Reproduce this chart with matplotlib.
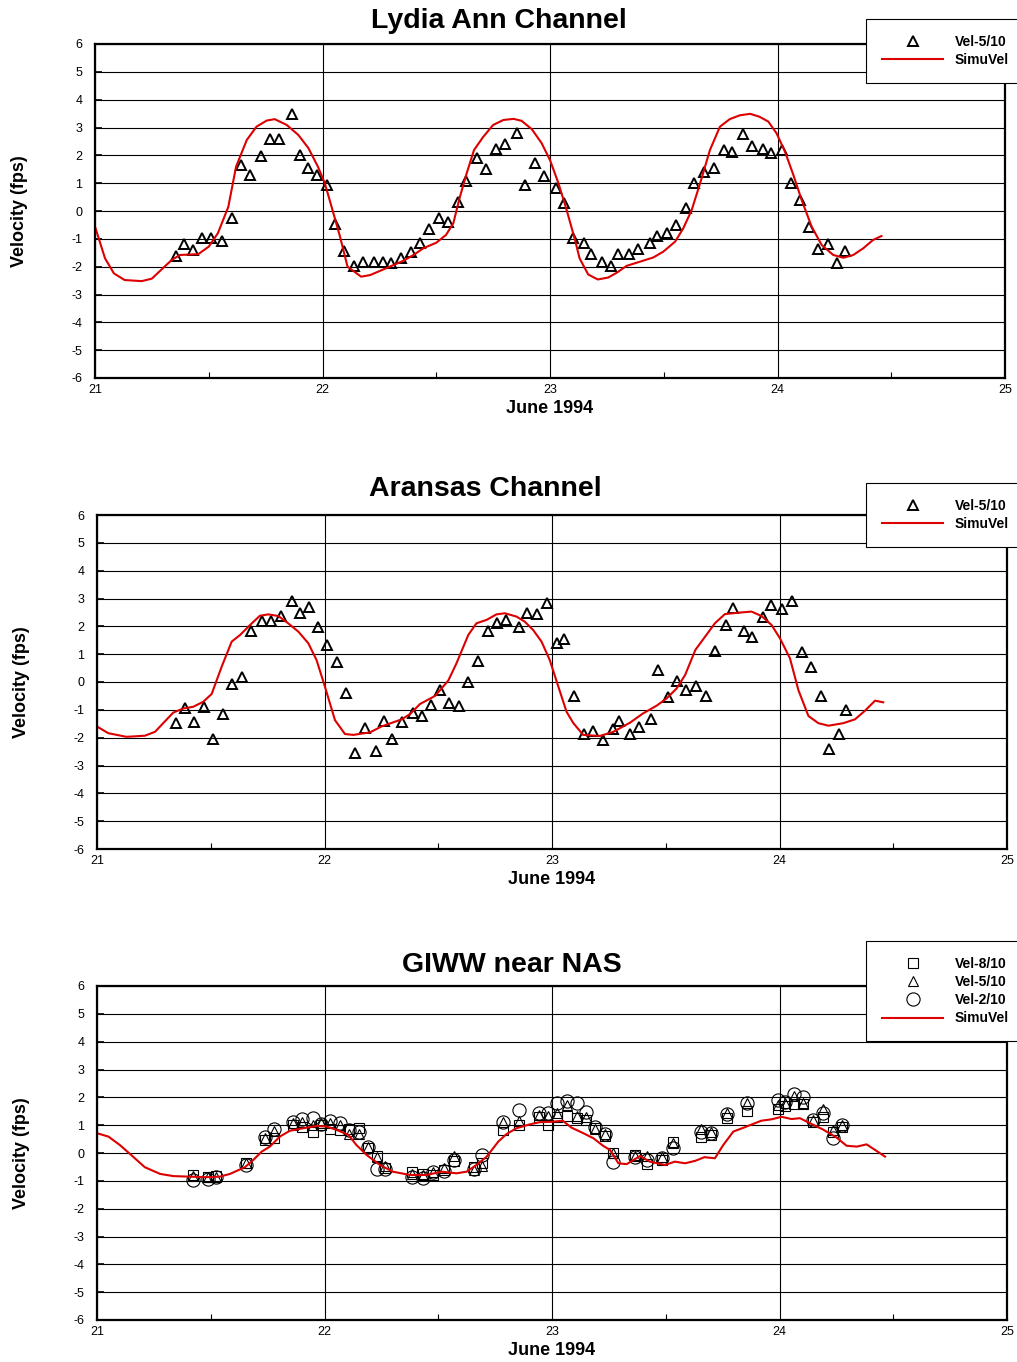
import matplotlib
matplotlib.use("Agg")
import matplotlib.pyplot as plt
from matplotlib.ticker import MultipleLocator

plt.rcParams['font.family'] = ['Liberation Sans', 'DejaVu Sans']
# the original uses plain hyphens for negative tick labels
plt.rcParams['axes.unicode_minus'] = False

# ---- Lydia Ann Channel ----
la_obs_t = [21.354, 21.39, 21.43, 21.47, 21.51, 21.557, 21.60, 21.64, 21.68, 21.73, 21.77, 21.81,
            21.866, 21.90, 21.935, 21.975, 22.02, 22.056, 22.095, 22.14, 22.18, 22.226, 22.267, 22.30,
            22.345, 22.39, 22.43, 22.47, 22.51, 22.553, 22.594, 22.63, 22.68, 22.72, 22.763, 22.80,
            22.857, 22.89, 22.934, 22.975, 23.025, 23.06, 23.10, 23.15, 23.18, 23.227, 23.268, 23.297,
            23.347, 23.388, 23.44, 23.47, 23.513, 23.554, 23.597, 23.634, 23.677, 23.722, 23.766, 23.80,
            23.85, 23.886, 23.938, 23.97, 24.018, 24.058, 24.099, 24.14, 24.18, 24.22, 24.263, 24.297]
la_obs_v = [-1.61, -1.2, -1.4, -0.96, -0.96, -1.08, -0.26, 1.65, 1.29, 1.98, 2.6, 2.58,
            3.49, 2.0, 1.53, 1.29, 0.92, -0.47, -1.44, -1.97, -1.85, -1.82, -1.82, -1.86,
            -1.68, -1.49, -1.16, -0.66, -0.24, -0.38, 0.31, 1.09, 1.9, 1.5, 2.22, 2.4,
            2.79, 0.93, 1.74, 1.26, 0.84, 0.28, -0.98, -1.14, -1.56, -1.85, -1.97, -1.56,
            -1.56, -1.37, -1.16, -0.89, -0.78, -0.5, 0.1, 1.0, 1.39, 1.56, 2.19, 2.13,
            2.76, 2.34, 2.24, 2.07, 2.19, 1.02, 0.4, -0.59, -1.38, -1.19, -1.86, -1.44]
la_sim_t = [21.0, 21.044, 21.083, 21.13, 21.205, 21.25, 21.29, 21.337, 21.374, 21.454, 21.5, 21.54,
            21.586, 21.62, 21.667, 21.71, 21.755, 21.79, 21.843, 21.894, 21.938, 21.98, 22.01, 22.04,
            22.077, 22.11, 22.17, 22.21, 22.253, 22.304, 22.355, 22.4, 22.443, 22.50, 22.543, 22.575,
            22.604, 22.634, 22.666, 22.707, 22.75, 22.795, 22.84, 22.875, 22.92, 22.963, 23.0, 23.037,
            23.073, 23.11, 23.13, 23.168, 23.21, 23.256, 23.293, 23.337, 23.396, 23.454, 23.498, 23.55,
            23.586, 23.623, 23.66, 23.703, 23.747, 23.79, 23.835, 23.88, 23.92, 23.96, 23.996, 24.033,
            24.07, 24.106, 24.15, 24.194, 24.245, 24.29, 24.333, 24.377, 24.42, 24.457]
la_sim_v = [-0.56, -1.7, -2.24, -2.48, -2.52, -2.43, -2.12, -1.76, -1.58, -1.55, -1.28, -0.8,
            0.15, 1.59, 2.55, 3.03, 3.25, 3.3, 3.09, 2.73, 2.26, 1.59, 1.0, 0.15,
            -0.92, -2.0, -2.36, -2.3, -2.15, -1.97, -1.79, -1.58, -1.34, -1.14, -0.86, -0.44,
            0.51, 1.36, 2.19, 2.67, 3.09, 3.27, 3.31, 3.24, 2.94, 2.44, 1.83, 1.0,
            0.04, -1.04, -1.7, -2.28, -2.46, -2.39, -2.22, -1.97, -1.82, -1.67, -1.46, -1.1,
            -0.62, 0.04, 1.0, 2.19, 3.03, 3.3, 3.44, 3.49, 3.39, 3.21, 2.79, 2.13,
            1.29, 0.4, -0.56, -1.22, -1.58, -1.68, -1.58, -1.34, -1.04, -0.9]

# ---- Aransas Channel ----
ar_obs_t = [21.347, 21.388, 21.428, 21.469, 21.511, 21.552, 21.595, 21.636, 21.678, 21.724, 21.765, 21.809,
            21.857, 21.892, 21.933, 21.973, 22.012, 22.054, 22.093, 22.134, 22.178, 22.225, 22.263, 22.298,
            22.342, 22.387, 22.427, 22.468, 22.508, 22.549, 22.592, 22.629, 22.675, 22.717, 22.76, 22.796,
            22.855, 22.888, 22.932, 22.977, 23.02, 23.054, 23.098, 23.142, 23.18, 23.222, 23.266, 23.296,
            23.343, 23.384, 23.435, 23.464, 23.508, 23.551, 23.589, 23.633, 23.675, 23.716, 23.763, 23.794,
            23.845, 23.88, 23.929, 23.963, 24.012, 24.053, 24.097, 24.137, 24.181, 24.219, 24.262, 24.292]
ar_obs_v = [-1.49, -0.95, -1.45, -0.89, -2.05, -1.16, -0.07, 0.17, 1.83, 2.2, 2.2, 2.37,
            2.92, 2.47, 2.71, 1.99, 1.33, 0.73, -0.38, -2.54, -1.64, -2.48, -1.39, -2.05,
            -1.45, -1.1, -1.21, -0.83, -0.29, -0.74, -0.86, 0.01, 0.75, 1.83, 2.11, 2.23,
            1.99, 2.47, 2.43, 2.85, 1.41, 1.53, -0.49, -1.87, -1.75, -2.08, -1.7, -1.4,
            -1.88, -1.63, -1.34, 0.43, -0.55, 0.04, -0.29, -0.14, -0.49, 1.11, 2.05, 2.65,
            1.84, 1.6, 2.32, 2.77, 2.61, 2.92, 1.09, 0.53, -0.49, -2.42, -1.87, -1.01]
ar_sim_t = [21.0, 21.05, 21.13, 21.21, 21.255, 21.335, 21.38, 21.423, 21.467, 21.504, 21.548, 21.592,
            21.629, 21.673, 21.716, 21.753, 21.797, 21.84, 21.885, 21.929, 21.965, 22.002, 22.046, 22.09,
            22.127, 22.2, 22.25, 22.34, 22.376, 22.42, 22.486, 22.544, 22.58, 22.632, 22.668, 22.712,
            22.756, 22.793, 22.844, 22.88, 22.917, 22.954, 22.99, 23.028, 23.064, 23.094, 23.137, 23.21,
            23.27, 23.343, 23.4, 23.46, 23.504, 23.548, 23.585, 23.63, 23.673, 23.716, 23.76, 23.82,
            23.877, 23.921, 23.965, 24.002, 24.046, 24.083, 24.127, 24.171, 24.215, 24.28, 24.332, 24.376,
            24.42, 24.456]
ar_sim_v = [-1.6, -1.84, -1.97, -1.93, -1.79, -1.1, -0.95, -0.89, -0.71, -0.43, 0.55, 1.45,
            1.69, 2.05, 2.38, 2.43, 2.37, 2.11, 1.81, 1.39, 0.79, -0.17, -1.37, -1.87,
            -1.9, -1.81, -1.6, -1.34, -1.15, -0.79, -0.5, 0.05, 0.67, 1.69, 2.11, 2.23,
            2.43, 2.47, 2.35, 2.17, 1.87, 1.45, 0.79, -0.17, -1.07, -1.48, -1.9, -1.94,
            -1.79, -1.46, -1.13, -0.85, -0.59, -0.23, 0.25, 1.15, 1.63, 2.11, 2.44, 2.49,
            2.53, 2.37, 2.05, 1.57, 0.85, -0.29, -1.22, -1.48, -1.57, -1.48, -1.34, -1.03,
            -0.67, -0.73]

# ---- GIWW near NAS (three depths) ----
gi_obs_t = [21.42, 21.49, 21.525, 21.655, 21.74, 21.78, 21.86, 21.90, 21.95, 21.985, 22.024, 22.068,
            22.109, 22.15, 22.19, 22.232, 22.268, 22.383, 22.434, 22.478, 22.525, 22.57, 22.657, 22.694,
            22.783, 22.855, 22.944, 22.984, 23.02, 23.064, 23.108, 23.148, 23.19, 23.233, 23.27, 23.365,
            23.416, 23.482, 23.533, 23.653, 23.70, 23.77, 23.855, 23.995, 24.024, 24.064, 24.105, 24.149,
            24.19, 24.233, 24.274]
gi_vel8 = [-0.79, -0.85, -0.83, -0.37, 0.47, 0.55, 1.0, 0.95, 0.77, 1.0, 0.86, 0.83,
           0.85, 0.89, 0.18, -0.1, -0.55, -0.67, -0.77, -0.78, -0.6, -0.3, -0.5, -0.35,
           0.83, 1.0, 1.3, 1.0, 1.3, 1.33, 1.27, 1.2, 0.9, 0.6, 0.0, -0.07,
           -0.4, -0.25, 0.4, 0.59, 0.65, 1.25, 1.52, 1.57, 1.7, 1.76, 1.76, 1.1,
           1.3, 0.77, 0.95]
gi_vel5 = [-0.83, -0.85, -0.87, -0.35, 0.55, 0.8, 1.06, 1.1, 1.0, 1.09, 1.06, 1.0,
           0.7, 0.7, 0.2, -0.15, -0.48, -0.75, -0.8, -0.7, -0.55, -0.1, -0.62, -0.45,
           1.12, 1.16, 1.36, 1.33, 1.45, 1.72, 1.33, 1.3, 0.85, 0.7, 0.0, -0.11,
           -0.1, -0.13, 0.35, 0.85, 0.77, 1.43, 1.81, 1.72, 1.8, 2.05, 1.8, 1.2,
           1.57, 0.83, 1.0]
gi_vel2 = [-0.97, -0.93, -0.85, -0.43, 0.59, 0.85, 1.12, 1.21, 1.24, 1.05, 1.16, 1.07,
           0.83, 0.77, 0.23, -0.59, -0.59, -0.85, -0.9, -0.7, -0.65, -0.25, -0.59, -0.07,
           1.12, 1.55, 1.43, 1.43, 1.79, 1.88, 1.79, 1.48, 0.95, 0.7, -0.31, -0.15,
           -0.25, -0.19, 0.17, 0.77, 0.73, 1.39, 1.79, 1.9, 1.84, 2.12, 2.02, 1.19,
           1.43, 0.53, 1.0]
gi_sim_t = [21.0, 21.05, 21.1, 21.15, 21.21, 21.277, 21.335, 21.41, 21.48, 21.54, 21.585, 21.65,
            21.687, 21.724, 21.76, 21.804, 21.848, 21.907, 21.965, 22.01, 22.054, 22.105, 22.14, 22.185,
            22.244, 22.3, 22.376, 22.45, 22.515, 22.58, 22.625, 22.668, 22.713, 22.764, 22.8, 22.844,
            22.903, 22.947, 22.998, 23.047, 23.086, 23.138, 23.182, 23.226, 23.255, 23.292, 23.328, 23.387,
            23.43, 23.497, 23.54, 23.585, 23.63, 23.67, 23.716, 23.753, 23.797, 23.855, 23.92, 23.965,
            24.009, 24.053, 24.09, 24.134, 24.19, 24.25, 24.295, 24.34, 24.383, 24.42, 24.464]
gi_sim_v = [0.71, 0.59, 0.29, -0.07, -0.51, -0.75, -0.83, -0.85, -0.87, -0.85, -0.75, -0.51,
            -0.25, 0.05, 0.23, 0.59, 0.8, 0.89, 0.97, 0.95, 0.83, 0.65, 0.29, -0.07,
            -0.43, -0.67, -0.79, -0.79, -0.67, -0.73, -0.67, -0.43, -0.13, 0.41, 0.68, 0.89,
            1.03, 1.11, 1.12, 1.16, 0.91, 0.71, 0.53, 0.25, 0.11, -0.37, -0.40, -0.11,
            -0.31, -0.43, -0.31, -0.37, -0.28, -0.15, -0.19, 0.29, 0.77, 0.95, 1.16, 1.21,
            1.3, 1.22, 1.25, 1.07, 0.85, 0.56, 0.26, 0.23, 0.31, 0.11, -0.13]

SIM_RED = '#dd0000'
W, H = 1017.0, 1362.0


# Sets up the shared look of one panel (axes, grid, ticks, labels)
def stylePanel(ax, title, titleXY):
    ax.set_xlim(21, 25)
    ax.set_ylim(-6, 6)
    ax.xaxis.set_major_locator(MultipleLocator(1))
    ax.xaxis.set_minor_locator(MultipleLocator(0.5))
    ax.yaxis.set_major_locator(MultipleLocator(1))
    ax.grid(True, which='major', color='black', linewidth=0.8)
    ax.set_axisbelow(True)
    for s in ax.spines.values():
        s.set_linewidth(1.6)
    ax.tick_params(axis='x', which='major', direction='in', length=0, labelsize=9, pad=4)
    ax.tick_params(axis='x', which='minor', direction='in', length=4, width=0.8)
    ax.tick_params(axis='y', which='major', direction='in', length=5, width=1.2, labelsize=9, pad=9)
    ax.set_xlabel('June 1994', fontsize=13, fontweight='bold', labelpad=3)
    ax.set_ylabel('Velocity (fps)', fontsize=13, fontweight='bold')
    ax.yaxis.set_label_coords(-0.074, 0.5)
    fig.text(titleXY[0] / W, 1 - titleXY[1] / H, title, fontsize=20.5, fontweight='bold',
             ha='center', va='center')


# Legend box that hangs off the top right corner of the figure
def panelLegend(ax, topLeft):
    leg = ax.legend(loc='upper left', bbox_to_anchor=(topLeft[0] / W, 1 - topLeft[1] / H),
                    bbox_transform=fig.transFigure, fancybox=False, framealpha=1,
                    edgecolor='black', borderpad=1.15, handlelength=4.4, handletextpad=0.85,
                    labelspacing=0.3, markerscale=1.0, borderaxespad=0,
                    prop={'weight': 'bold', 'size': 10})
    leg.get_frame().set_linewidth(0.8)
    return leg


fig = plt.figure(figsize=(10.17, 13.62), dpi=100)

ax1 = fig.add_axes([95 / W, 1 - 378 / H, 910 / W, 334 / H])
ax2 = fig.add_axes([97 / W, 1 - 849 / H, 910 / W, 334 / H])
ax3 = fig.add_axes([97 / W, 1 - 1320 / H, 910 / W, 334 / H])

# Lydia Ann Channel
stylePanel(ax1, 'Lydia Ann Channel', (499, 21))
ax1.plot(la_obs_t, la_obs_v, linestyle='none', marker='^', markersize=7.5, mfc='none',
         mec='black', mew=1.4, label='Vel-5/10')
ax1.plot(la_sim_t, la_sim_v, color=SIM_RED, linewidth=1.5, label='SimuVel')
panelLegend(ax1, (866, 19))

# Aransas Channel
stylePanel(ax2, 'Aransas Channel', (485, 489))
ax2.plot(ar_obs_t, ar_obs_v, linestyle='none', marker='^', markersize=7.5, mfc='none',
         mec='black', mew=1.4, label='Vel-5/10')
ax2.plot(ar_sim_t, ar_sim_v, color=SIM_RED, linewidth=1.5, label='SimuVel')
panelLegend(ax2, (866, 483))

# GIWW near NAS
stylePanel(ax3, 'GIWW near NAS', (512, 965))
ax3.plot(gi_obs_t, gi_vel8, linestyle='none', marker='s', markersize=6.5, mfc='none',
         mec='black', mew=0.8, label='Vel-8/10')
ax3.plot(gi_obs_t, gi_vel5, linestyle='none', marker='^', markersize=7.5, mfc='none',
         mec='black', mew=0.8, label='Vel-5/10')
ax3.plot(gi_obs_t, gi_vel2, linestyle='none', marker='o', markersize=9.5, mfc='none',
         mec='black', mew=0.8, label='Vel-2/10')
ax3.plot(gi_sim_t, gi_sim_v, color=SIM_RED, linewidth=1.5, label='SimuVel')
panelLegend(ax3, (866, 941))

plt.savefig('out.png', dpi=100)
